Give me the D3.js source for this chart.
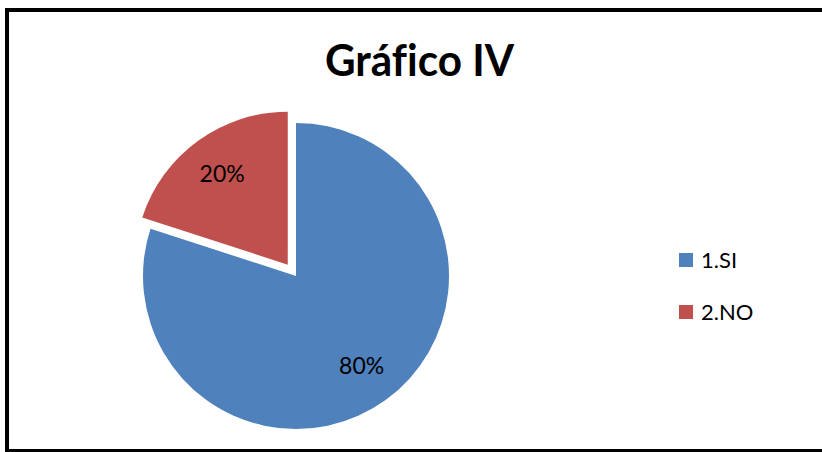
<!DOCTYPE html>
<html><head><meta charset="utf-8">
<script src="https://cdn.jsdelivr.net/npm/d3@7"></script>
<style>html,body{margin:0;padding:0;background:#fff;overflow:hidden} text{font-variant-ligatures:none}</style>
</head><body>
<svg id="chart" width="822" height="452"></svg>
<script>
const title = "Gráfico IV";
const categories = ["1.SI", "2.NO"];
const values = [80, 20];
const labels = ["80%", "20%"];
const colors = ["#4F81BD", "#C0504D"];
const explode = [0, 14];

const svg = d3.select("#chart");
svg.append("rect").attr("x", 0).attr("y", 0).attr("width", 822).attr("height", 452).attr("fill", "#fff");
svg.append("rect").attr("x", 7).attr("y", 10).attr("width", 840).attr("height", 441)
  .attr("fill", "none").attr("stroke", "#000").attr("stroke-width", 4);

svg.append("text").attr("x", 419.5).attr("y", 76).attr("text-anchor", "middle")
  .attr("font-family", "Lato, sans-serif").attr("font-weight", "bold").attr("font-size", 43)
  .attr("textLength", 189).attr("lengthAdjust", "spacingAndGlyphs")
  .attr("fill", "#000").text(title);

const cx = 296, cy = 276, r = 153;
const pie = d3.pie().sort(null).value(d => d)(values);
const arc = d3.arc().innerRadius(0).outerRadius(r);
const labelArc = d3.arc().innerRadius(r * 0.73).outerRadius(r * 0.73);

const g = svg.append("g").attr("transform", `translate(${cx},${cy})`);
pie.forEach((p, i) => {
  const mid = (p.startAngle + p.endAngle) / 2;
  const ox = Math.sin(mid) * explode[i], oy = -Math.cos(mid) * explode[i];
  const sg = g.append("g").attr("transform", `translate(${ox},${oy})`);
  sg.append("path").attr("d", arc(p)).attr("fill", colors[i]);
  const c = labelArc.centroid(p);
  sg.append("text").attr("x", c[0]).attr("y", c[1]).attr("dy", "0.35em")
    .attr("text-anchor", "middle").attr("font-family", "Lato, sans-serif")
    .attr("font-size", 23).attr("fill", "#000").text(labels[i]);
});

const lg = svg.append("g");
categories.forEach((c, i) => {
  const y = 253 + i * 52;
  lg.append("rect").attr("x", 679).attr("y", y).attr("width", 14).attr("height", 14).attr("fill", colors[i]);
  lg.append("text").attr("x", 701).attr("y", y + 15).attr("font-family", "Lato, sans-serif")
    .attr("font-size", 22).attr("fill", "#000").text(c);
});
</script>
</body></html>
